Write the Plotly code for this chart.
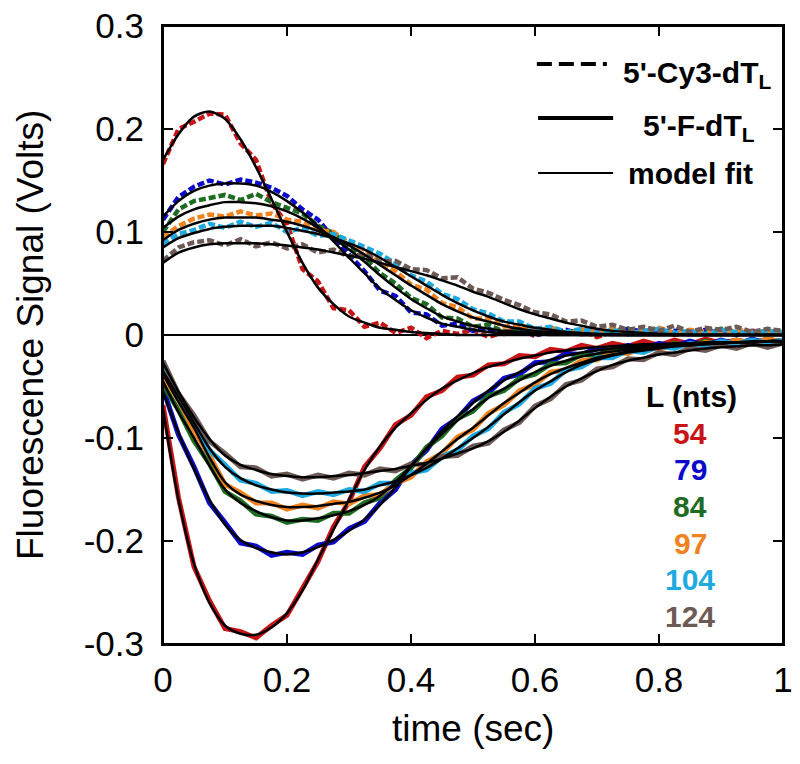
import plotly.graph_objects as go

# time axis (sec)
time = [0.0, 0.025, 0.05, 0.075, 0.1, 0.125, 0.15, 0.175, 0.2, 0.225,
        0.25, 0.275, 0.3, 0.325, 0.35, 0.375, 0.4, 0.425, 0.45, 0.475,
        0.5, 0.525, 0.55, 0.575, 0.6, 0.625, 0.65, 0.675, 0.7, 0.725,
        0.75, 0.775, 0.8, 0.825, 0.85, 0.875, 0.9, 0.925, 0.95, 0.975, 1.0]

lengths = ["54", "79", "84", "97", "104", "124"]
colors = ["#c81414", "#0a0ac8", "#1e6b22", "#f08220", "#1eaae0", "#6e5a55"]

# 5'-Cy3-dT_L data (upper, dashed)
cy3_54 = [0.166, 0.200, 0.207, 0.215, 0.214, 0.186, 0.170, 0.128, 0.108, 0.064,
          0.052, 0.026, 0.024, 0.008, 0.012, 0.002, 0.007, -0.003, 0.004, 0.001,
          0.005, -0.002, 0.003, 0.006, -0.001, 0.004, 0.002, 0.005, -0.002, 0.003,
          0.001, 0.004, 0.006, 0.0, 0.003, 0.002, 0.005, 0.001, 0.004, 0.002, 0.001]
cy3_79 = [0.112, 0.134, 0.144, 0.150, 0.146, 0.151, 0.148, 0.143, 0.135, 0.122,
          0.112, 0.094, 0.078, 0.062, 0.043, 0.038, 0.022, 0.020, 0.009, 0.011,
          0.004, 0.006, 0.001, 0.004, 0.0, 0.003, 0.005, 0.001, 0.004, 0.002,
          0.006, 0.003, 0.001, 0.004, 0.002, 0.005, 0.003, 0.0, 0.004, 0.002, 0.003]
cy3_84 = [0.100, 0.122, 0.130, 0.133, 0.136, 0.131, 0.137, 0.129, 0.124, 0.118,
          0.106, 0.099, 0.086, 0.075, 0.060, 0.050, 0.036, 0.030, 0.017, 0.016,
          0.008, 0.010, 0.003, 0.006, 0.001, 0.007, 0.002, 0.005, 0.0, 0.004,
          0.006, 0.002, 0.005, 0.001, 0.004, 0.003, 0.006, 0.002, 0.004, 0.001, 0.003]
cy3_97 = [0.095, 0.106, 0.113, 0.117, 0.115, 0.120, 0.116, 0.118, 0.112, 0.110,
          0.102, 0.100, 0.089, 0.083, 0.070, 0.062, 0.049, 0.044, 0.031, 0.027,
          0.016, 0.016, 0.008, 0.010, 0.004, 0.007, 0.001, 0.005, 0.003, 0.006,
          0.002, 0.004, 0.007, 0.002, 0.005, 0.003, 0.001, 0.005, 0.003, 0.004, 0.002]
cy3_104 = [0.088, 0.098, 0.102, 0.108, 0.104, 0.110, 0.105, 0.109, 0.100, 0.104,
           0.096, 0.098, 0.092, 0.086, 0.079, 0.069, 0.058, 0.052, 0.040, 0.035,
           0.025, 0.021, 0.013, 0.013, 0.006, 0.008, 0.003, 0.006, 0.002, 0.005,
           0.001, 0.004, 0.006, 0.002, 0.004, 0.001, 0.005, 0.003, 0.002, 0.004, 0.003]
cy3_124 = [0.072, 0.085, 0.090, 0.092, 0.087, 0.093, 0.086, 0.090, 0.084, 0.088,
           0.080, 0.083, 0.076, 0.079, 0.071, 0.072, 0.064, 0.063, 0.055, 0.056,
           0.045, 0.041, 0.034, 0.029, 0.022, 0.020, 0.013, 0.014, 0.008, 0.010,
           0.005, 0.008, 0.004, 0.009, 0.003, 0.007, 0.005, 0.008, 0.003, 0.006, 0.004]

# 5'-F-dT_L data (lower, solid)
f_54 = [-0.068, -0.158, -0.225, -0.258, -0.285, -0.288, -0.294, -0.282, -0.272, -0.245,
        -0.220, -0.186, -0.162, -0.128, -0.110, -0.087, -0.078, -0.060, -0.054, -0.041,
        -0.039, -0.029, -0.028, -0.020, -0.021, -0.014, -0.016, -0.010, -0.013, -0.008,
        -0.011, -0.006, -0.010, -0.005, -0.009, -0.004, -0.008, -0.005, -0.008, -0.004, -0.007]
f_79 = [-0.052, -0.097, -0.128, -0.163, -0.182, -0.202, -0.205, -0.214, -0.211, -0.213,
        -0.204, -0.201, -0.188, -0.181, -0.163, -0.150, -0.126, -0.112, -0.091, -0.081,
        -0.064, -0.056, -0.042, -0.038, -0.027, -0.026, -0.018, -0.019, -0.013, -0.015,
        -0.010, -0.013, -0.008, -0.011, -0.006, -0.010, -0.005, -0.009, -0.004, -0.008, -0.005]
f_84 = [-0.048, -0.073, -0.103, -0.125, -0.152, -0.161, -0.174, -0.176, -0.182, -0.179,
        -0.180, -0.173, -0.173, -0.163, -0.158, -0.141, -0.129, -0.109, -0.098, -0.081,
        -0.074, -0.059, -0.054, -0.042, -0.038, -0.028, -0.027, -0.019, -0.020, -0.014,
        -0.016, -0.010, -0.013, -0.008, -0.011, -0.006, -0.010, -0.005, -0.009, -0.004, -0.007]
f_97 = [-0.040, -0.063, -0.093, -0.117, -0.145, -0.153, -0.163, -0.163, -0.169, -0.165,
        -0.168, -0.162, -0.164, -0.156, -0.155, -0.144, -0.138, -0.123, -0.115, -0.099,
        -0.092, -0.076, -0.068, -0.054, -0.048, -0.036, -0.034, -0.025, -0.024, -0.017,
        -0.018, -0.012, -0.014, -0.009, -0.012, -0.007, -0.010, -0.005, -0.009, -0.004, -0.007]
f_104 = [-0.033, -0.062, -0.083, -0.112, -0.126, -0.141, -0.144, -0.152, -0.151, -0.156,
         -0.152, -0.155, -0.150, -0.152, -0.144, -0.144, -0.134, -0.131, -0.118, -0.112,
         -0.098, -0.091, -0.075, -0.067, -0.052, -0.047, -0.034, -0.031, -0.022, -0.022,
         -0.015, -0.017, -0.011, -0.013, -0.008, -0.011, -0.006, -0.009, -0.005, -0.008, -0.005]
f_124 = [-0.025, -0.057, -0.078, -0.103, -0.115, -0.128, -0.129, -0.137, -0.135, -0.140,
         -0.136, -0.139, -0.134, -0.136, -0.130, -0.132, -0.125, -0.126, -0.118, -0.117,
         -0.108, -0.105, -0.092, -0.085, -0.069, -0.062, -0.048, -0.044, -0.033, -0.031,
         -0.023, -0.024, -0.017, -0.019, -0.013, -0.015, -0.010, -0.013, -0.008, -0.012, -0.008]

# model fits, upper
fit_cy3_54 = [0.170, 0.195, 0.212, 0.217, 0.210, 0.190, 0.163, 0.132, 0.100, 0.070,
              0.046, 0.030, 0.018, 0.012, 0.007, 0.005, 0.003, 0.002, 0.001, 0.0,
              0, 0, 0, 0, 0, 0, 0, 0, 0, 0, 0, 0, 0, 0, 0, 0, 0, 0, 0, 0, 0]
fit_cy3_79 = [0.115, 0.130, 0.140, 0.145, 0.147, 0.147, 0.145, 0.139, 0.130, 0.119,
              0.106, 0.091, 0.075, 0.060, 0.045, 0.034, 0.024, 0.017, 0.011, 0.008,
              0.005, 0.003, 0.002, 0.001, 0.001,
              0, 0, 0, 0, 0, 0, 0, 0, 0, 0, 0, 0, 0, 0, 0, 0]
fit_cy3_84 = [0.104, 0.115, 0.122, 0.126, 0.129, 0.129, 0.128, 0.125, 0.120, 0.113,
              0.104, 0.094, 0.083, 0.071, 0.058, 0.046, 0.035, 0.026, 0.018, 0.013,
              0.009, 0.006, 0.004, 0.003, 0.002, 0.001, 0.001,
              0, 0, 0, 0, 0, 0, 0, 0, 0, 0, 0, 0, 0, 0]
fit_cy3_97 = [0.092, 0.102, 0.108, 0.112, 0.114, 0.114, 0.114, 0.112, 0.110, 0.106,
              0.101, 0.095, 0.087, 0.078, 0.068, 0.058, 0.048, 0.039, 0.030, 0.023,
              0.017, 0.013, 0.009, 0.006, 0.004, 0.003, 0.002, 0.001, 0.001,
              0, 0, 0, 0, 0, 0, 0, 0, 0, 0, 0, 0]
fit_cy3_104 = [0.085, 0.094, 0.099, 0.103, 0.105, 0.106, 0.106, 0.106, 0.104, 0.101,
               0.098, 0.094, 0.089, 0.083, 0.075, 0.066, 0.057, 0.048, 0.039, 0.031,
               0.024, 0.018, 0.013, 0.010, 0.007, 0.005, 0.003, 0.002, 0.001, 0.001,
               0, 0, 0, 0, 0, 0, 0, 0, 0, 0, 0]
fit_cy3_124 = [0.070, 0.080, 0.085, 0.088, 0.089, 0.089, 0.089, 0.088, 0.087, 0.085,
               0.083, 0.080, 0.077, 0.074, 0.070, 0.066, 0.062, 0.058, 0.053, 0.048,
               0.042, 0.037, 0.031, 0.025, 0.020, 0.016, 0.012, 0.009, 0.006, 0.004,
               0.003, 0.002, 0.001, 0.001, 0, 0, 0, 0, 0, 0, 0]

# model fits, lower
fit_f_54 = [-0.072, -0.160, -0.222, -0.260, -0.282, -0.290, -0.291, -0.284, -0.270, -0.248,
            -0.218, -0.189, -0.160, -0.131, -0.108, -0.090, -0.076, -0.063, -0.052, -0.044,
            -0.037, -0.031, -0.027, -0.023, -0.020, -0.017, -0.015, -0.013, -0.012, -0.011,
            -0.010, -0.009, -0.009, -0.008, -0.008, -0.007, -0.007, -0.007, -0.007, -0.006, -0.006]
fit_f_79 = [-0.055, -0.095, -0.130, -0.160, -0.184, -0.199, -0.207, -0.211, -0.213, -0.211,
            -0.206, -0.199, -0.190, -0.179, -0.165, -0.148, -0.128, -0.110, -0.093, -0.079,
            -0.066, -0.054, -0.044, -0.036, -0.029, -0.024, -0.020, -0.017, -0.015, -0.013,
            -0.012, -0.011, -0.010, -0.009, -0.008, -0.008, -0.007, -0.007, -0.006, -0.006, -0.006]
fit_f_84 = [-0.045, -0.075, -0.100, -0.127, -0.150, -0.163, -0.171, -0.177, -0.180, -0.180,
            -0.178, -0.175, -0.171, -0.165, -0.156, -0.143, -0.127, -0.111, -0.096, -0.083,
            -0.072, -0.061, -0.052, -0.044, -0.036, -0.030, -0.025, -0.021, -0.018, -0.016,
            -0.014, -0.012, -0.011, -0.010, -0.009, -0.008, -0.008, -0.007, -0.007, -0.006, -0.006]
fit_f_97 = [-0.038, -0.065, -0.090, -0.119, -0.143, -0.155, -0.161, -0.165, -0.167, -0.167,
            -0.166, -0.164, -0.162, -0.158, -0.153, -0.146, -0.136, -0.125, -0.113, -0.101,
            -0.090, -0.078, -0.066, -0.056, -0.046, -0.038, -0.032, -0.027, -0.022, -0.019,
            -0.016, -0.014, -0.012, -0.011, -0.010, -0.009, -0.008, -0.007, -0.007, -0.006, -0.006]
fit_f_104 = [-0.035, -0.060, -0.085, -0.110, -0.128, -0.139, -0.146, -0.150, -0.153, -0.154,
             -0.154, -0.153, -0.152, -0.150, -0.146, -0.142, -0.136, -0.129, -0.120, -0.110,
             -0.100, -0.089, -0.077, -0.065, -0.054, -0.045, -0.036, -0.029, -0.024, -0.020,
             -0.017, -0.015, -0.013, -0.011, -0.010, -0.009, -0.008, -0.007, -0.007, -0.006, -0.006]
fit_f_124 = [-0.027, -0.055, -0.080, -0.101, -0.117, -0.126, -0.131, -0.135, -0.137, -0.138,
             -0.138, -0.137, -0.136, -0.134, -0.132, -0.130, -0.127, -0.124, -0.120, -0.115,
             -0.110, -0.103, -0.094, -0.083, -0.071, -0.060, -0.050, -0.042, -0.035, -0.029,
             -0.025, -0.022, -0.019, -0.017, -0.015, -0.013, -0.012, -0.011, -0.010, -0.010, -0.009]

xticks = [0, 0.2, 0.4, 0.6, 0.8, 1]
xtick_text = ["0", "0.2", "0.4", "0.6", "0.8", "1"]
yticks = [-0.3, -0.2, -0.1, 0, 0.1, 0.2, 0.3]
ytick_text = ["-0.3", "-0.2", "-0.1", "0", "0.1", "0.2", "0.3"]

cy3_data = [cy3_54, cy3_79, cy3_84, cy3_97, cy3_104, cy3_124]
f_data = [f_54, f_79, f_84, f_97, f_104, f_124]
fits = [fit_cy3_54, fit_cy3_79, fit_cy3_84, fit_cy3_97, fit_cy3_104, fit_cy3_124,
        fit_f_54, fit_f_79, fit_f_84, fit_f_97, fit_f_104, fit_f_124]

FONT = "Liberation Sans, Arial, sans-serif"

fig = go.Figure()

for ys, c in zip(f_data, colors):
    fig.add_trace(go.Scatter(x=time, y=ys, mode="lines",
                             line=dict(color=c, width=5), showlegend=False))
for ys, c in zip(cy3_data, colors):
    fig.add_trace(go.Scatter(x=time, y=ys, mode="lines",
                             line=dict(color=c, width=4.5, dash="7px,3px"), showlegend=False))
for ys in fits:
    fig.add_trace(go.Scatter(x=time, y=ys, mode="lines",
                             line=dict(color="black", width=2.5, shape="spline", smoothing=0.8),
                             showlegend=False))

# plot frame, in case the mirrored axis line gets lost at the top edge
fig.add_shape(type="rect", xref="paper", yref="paper", x0=0, x1=1, y0=0, y1=1,
              line=dict(color="black", width=2), layer="above")

# legend drawn by hand: sample lines + labels
fig.add_shape(type="line", xref="paper", yref="paper", x0=0.603, x1=0.716, y0=0.9385, y1=0.9385,
              line=dict(color="black", width=4, dash="15px,7px"))
fig.add_shape(type="line", xref="paper", yref="paper", x0=0.605, x1=0.726, y0=0.851, y1=0.851,
              line=dict(color="black", width=4))
fig.add_shape(type="line", xref="paper", yref="paper", x0=0.605, x1=0.726, y0=0.762, y1=0.762,
              line=dict(color="black", width=2))

legend_labels = ["5'-Cy3-dT<sub>L</sub>", "5'-F-dT<sub>L</sub>", "model fit"]
legend_x = [0.739, 0.771, 0.747]
legend_y = [0.922, 0.835, 0.762]
for txt, lx, ly in zip(legend_labels, legend_x, legend_y):
    fig.add_annotation(text="<b>" + txt + "</b>", xref="paper", yref="paper", x=lx, y=ly,
                       xanchor="left", yanchor="middle", showarrow=False,
                       font=dict(family=FONT, size=30, color="black"))

fig.add_annotation(text="<b>L (nts)</b>", xref="paper", yref="paper", x=0.852, y=0.4,
                   xanchor="center", yanchor="middle", showarrow=False,
                   font=dict(family=FONT, size=30, color="black"))
label_y = [0.341, 0.2816, 0.2217, 0.1634, 0.105, 0.0437]
for name, c, ly in zip(lengths, colors, label_y):
    fig.add_annotation(text="<b>" + name + "</b>", xref="paper", yref="paper", x=0.85, y=ly,
                       xanchor="center", yanchor="middle", showarrow=False,
                       font=dict(family=FONT, size=30, color=c))

fig.add_annotation(text="Fluorescence Signal (Volts)", xref="paper", yref="paper",
                   x=-0.2145, y=0.5, textangle=-90, showarrow=False,
                   xanchor="center", yanchor="middle",
                   font=dict(family=FONT, size=37, color="black"))
fig.add_annotation(text="time (sec)", xref="paper", yref="paper",
                   x=0.5, y=-0.137, showarrow=False, xanchor="center", yanchor="middle",
                   font=dict(family=FONT, size=37, color="black"))

axis_common = dict(showline=True, linecolor="black", linewidth=2, mirror="ticks",
                   ticks="inside", ticklen=10, tickwidth=2, tickcolor="black",
                   showgrid=False, automargin=False, ticklabeloverflow="allow",
                   tickfont=dict(family=FONT, size=35, color="black"))

fig.update_xaxes(range=[0, 1], tickvals=xticks, ticktext=xtick_text,
                 zeroline=False, ticklabelstandoff=4, **axis_common)
fig.update_yaxes(range=[-0.3, 0.3], tickvals=yticks, ticktext=ytick_text,
                 zeroline=True, zerolinecolor="black", zerolinewidth=2,
                 ticklabelstandoff=10, **axis_common)

fig.update_layout(width=800, height=764, plot_bgcolor="white", paper_bgcolor="white",
                  margin=dict(l=163, r=17, t=26, b=120), showlegend=False)

# drop the default body margin so the figure sits at the window's corner; no modebar
fig.write_html("out.html", config={"displayModeBar": False},
               post_script="document.body.style.margin='0px';")
